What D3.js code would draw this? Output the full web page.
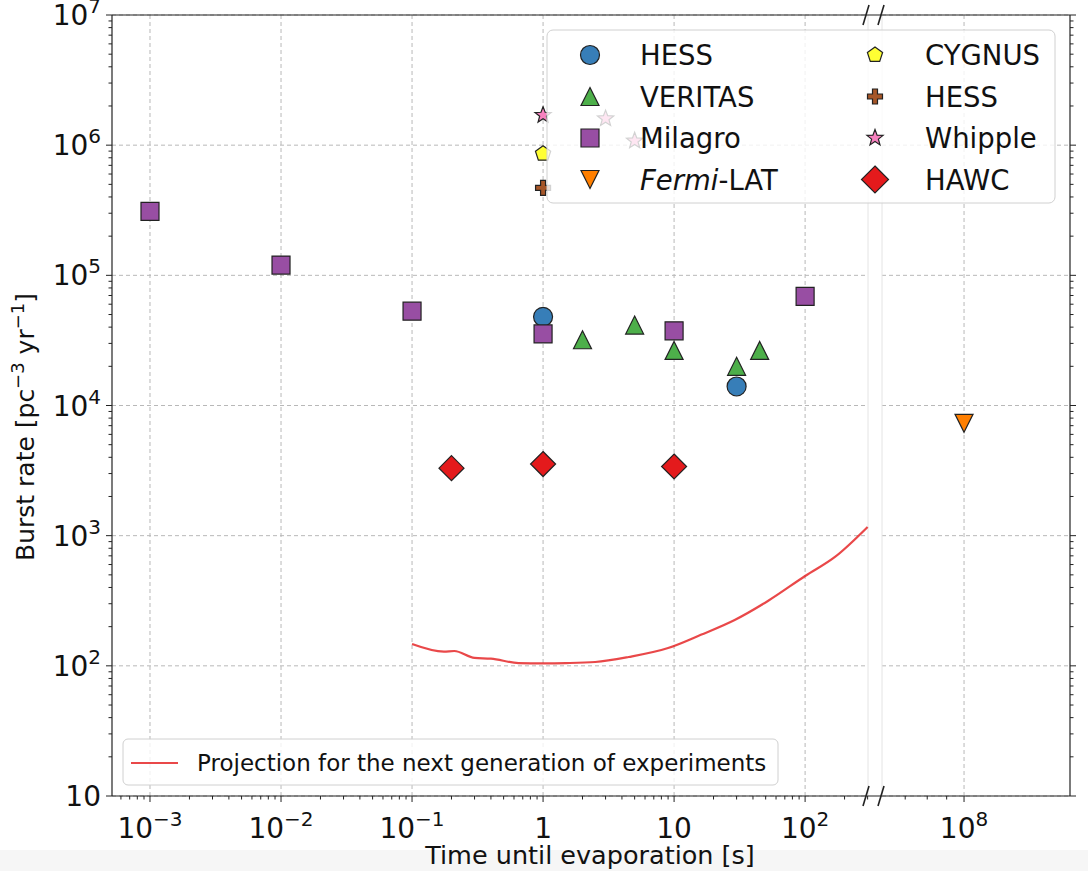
<!DOCTYPE html>
<html>
<head>
<meta charset="utf-8">
<script src="https://cdn.jsdelivr.net/npm/d3@7"></script>
<style>
  body { margin: 0; background: #fff; }
  text { font-family: "DejaVu Sans", sans-serif; fill: #111; }
</style>
</head>
<body>
<div id="chart"></div>
<script>
// data
var milagroX = [1e-3, 1e-2, 0.1, 1, 10, 100];
var milagroY = [3.1e5, 1.2e5, 5.3e4, 3.55e4, 3.75e4, 6.9e4];
var hessX = [1, 30];
var hessY = [4.8e4, 1.4e4];
var veritasX = [2, 5, 10, 30, 45];
var veritasY = [3.2e4, 4.15e4, 2.65e4, 2.0e4, 2.65e4];
var hawcX = [0.2, 1, 10];
var hawcY = [3.3e3, 3.55e3, 3.4e3];
var fermiX = [1e8];
var fermiY = [7.3e3];
var cygnusX = [1];
var cygnusY = [8.6e5];
var hessPlusX = [1];
var hessPlusY = [4.7e5];
var whippleX = [1, 3, 5];
var whippleY = [1.7e6, 1.6e6, 1.08e6];

var projX = [0.1, 0.175, 0.21, 0.3, 0.4, 0.65, 1, 1.5, 2.5, 4.5, 9, 16, 29, 52, 100, 170, 300];
var projY = [147, 128.5, 130, 115, 113.5, 105, 104.5, 105, 107, 117, 137, 173, 225, 315, 490, 690, 1167];

var xTicksMain = [1e-3, 1e-2, 1e-1, 1, 10, 100];
var xTicksRight = [1e8];
var yTicks = [10, 1e2, 1e3, 1e4, 1e5, 1e6, 1e7];

var W = 1088, H = 871;
var pLeft = 112, pTop = 15, pBottom = 796, mainRight = 868, rightLeft = 882, pRight = 1070;

var svg = d3.select("#chart").append("svg")
  .attr("width", W).attr("height", H);

svg.append("rect").attr("x", 0).attr("y", 850).attr("width", W).attr("height", 21).attr("fill", "#f6f6f6");

var xMain = d3.scaleLog().domain([Math.pow(10, -3.29), Math.pow(10, 2.48)]).range([pLeft, mainRight]);
var xRight = d3.scaleLog().domain([Math.pow(10, 7.784), Math.pow(10, 8.279)]).range([rightLeft, pRight]);
var y = d3.scaleLog().domain([10, 1e7]).range([pBottom, pTop]);

function minors(lo, hi) {
  var out = [];
  for (var e = Math.floor(Math.log10(lo)) - 1; e <= Math.ceil(Math.log10(hi)); e++) {
    for (var m = 2; m <= 9; m++) {
      var v = m * Math.pow(10, e);
      if (v >= lo && v <= hi) out.push(v);
    }
  }
  return out;
}

// grid
var grid = svg.append("g").attr("stroke", "#b8b8b8").attr("stroke-dasharray", "4,3").attr("stroke-width", 1);
xTicksMain.forEach(function(v) {
  grid.append("line").attr("x1", xMain(v)).attr("x2", xMain(v)).attr("y1", pTop).attr("y2", pBottom);
});
xTicksRight.forEach(function(v) {
  grid.append("line").attr("x1", xRight(v)).attr("x2", xRight(v)).attr("y1", pTop).attr("y2", pBottom);
});
yTicks.forEach(function(v) {
  grid.append("line").attr("x1", pLeft).attr("x2", mainRight).attr("y1", y(v)).attr("y2", y(v));
  grid.append("line").attr("x1", rightLeft).attr("x2", pRight).attr("y1", y(v)).attr("y2", y(v));
});

// faint inner spines at the break
svg.append("line").attr("x1", mainRight).attr("x2", mainRight).attr("y1", pTop).attr("y2", pBottom).attr("stroke", "#e4e4e4");
svg.append("line").attr("x1", rightLeft).attr("x2", rightLeft).attr("y1", pTop).attr("y2", pBottom).attr("stroke", "#e4e4e4");

// projection curve
var line = d3.line()
  .x(function(d) { return xMain(d[0]); })
  .y(function(d) { return y(d[1]); })
  .curve(d3.curveMonotoneX);
svg.append("path")
  .datum(d3.zip(projX, projY))
  .attr("d", line)
  .attr("fill", "none")
  .attr("stroke", "#e41a1c").attr("stroke-opacity", 0.8).attr("stroke-width", 2.2);

// marker shapes
function markerPath(kind, s) {
  var h = s / 2, i, a, pts = [];
  if (kind == "circle") return d3.symbol(d3.symbolCircle, Math.PI * h * h)();
  if (kind == "square") return "M" + -h + "," + -h + "H" + h + "V" + h + "H" + -h + "Z";
  if (kind == "tri") return "M0," + -h + "L" + h + "," + h + "L" + -h + "," + h + "Z";
  if (kind == "tridown") return "M0," + h + "L" + h + "," + -h + "L" + -h + "," + -h + "Z";
  if (kind == "diamond") return "M0," + -h + "L" + h + ",0L0," + h + "L" + -h + ",0Z";
  if (kind == "pentagon") {
    for (i = 0; i < 5; i++) {
      a = -Math.PI / 2 + i * 2 * Math.PI / 5;
      pts.push([h * Math.cos(a), h * Math.sin(a)]);
    }
    return "M" + pts.join("L") + "Z";
  }
  if (kind == "star") {
    for (i = 0; i < 10; i++) {
      a = -Math.PI / 2 + i * Math.PI / 5;
      var r = i % 2 ? h * 0.42 : h;
      pts.push([r * Math.cos(a), r * Math.sin(a)]);
    }
    return "M" + pts.join("L") + "Z";
  }
  if (kind == "plus") {
    var t = h / 3;
    return "M" + -t + "," + -h + "H" + t + "V" + -t + "H" + h + "V" + t + "H" + t + "V" + h +
      "H" + -t + "V" + t + "H" + -h + "V" + -t + "H" + -t + "Z";
  }
}

var series = [
  {name: "HESS", xs: hessX, ys: hessY, kind: "circle", size: 19, color: "#377eb8"},
  {name: "VERITAS", xs: veritasX, ys: veritasY, kind: "tri", size: 18, color: "#4daf4a"},
  {name: "Milagro", xs: milagroX, ys: milagroY, kind: "square", size: 18, color: "#984ea3"},
  {name: "Fermi-LAT", xs: fermiX, ys: fermiY, kind: "tridown", size: 18, color: "#ff7f00", italic: "Fermi", rest: "-LAT"},
  {name: "CYGNUS", xs: cygnusX, ys: cygnusY, kind: "pentagon", size: 16, color: "#ffff33"},
  {name: "HESS", xs: hessPlusX, ys: hessPlusY, kind: "plus", size: 15, color: "#a65628"},
  {name: "Whipple", xs: whippleX, ys: whippleY, kind: "star", size: 17, color: "#f781bf"},
  {name: "HAWC", xs: hawcX, ys: hawcY, kind: "diamond", size: 25, color: "#e41a1c"}
];

function xPos(v) { return v > 1e6 ? xRight(v) : xMain(v); }

series.forEach(function(s) {
  svg.append("g").selectAll("path")
    .data(d3.zip(s.xs, s.ys))
    .enter().append("path")
    .attr("d", markerPath(s.kind, s.size))
    .attr("transform", function(d) { return "translate(" + xPos(d[0]) + "," + y(d[1]) + ")"; })
    .attr("fill", s.color)
    .attr("stroke", "#222").attr("stroke-width", 1.2);
});

// axes
var ax = svg.append("g").attr("stroke", "#222").attr("stroke-width", 1.2);
ax.append("line").attr("x1", pLeft).attr("x2", pRight).attr("y1", pTop).attr("y2", pTop);
ax.append("line").attr("x1", pLeft).attr("x2", pRight).attr("y1", pBottom).attr("y2", pBottom);
ax.append("line").attr("x1", pLeft).attr("x2", pLeft).attr("y1", pTop).attr("y2", pBottom);
ax.append("line").attr("x1", pRight).attr("x2", pRight).attr("y1", pTop).attr("y2", pBottom);

// break marks
[mainRight - 2, rightLeft - 1].forEach(function(bx) {
  [pTop, pBottom].forEach(function(by) {
    svg.append("line").attr("x1", bx - 3).attr("y1", by + 10).attr("x2", bx + 3).attr("y2", by - 10)
      .attr("stroke", "#222").attr("stroke-width", 1.6);
  });
});

function tickLines(g, vals, fx, fy, len, horiz) {
  vals.forEach(function(v) {
    if (horiz) g.append("line").attr("x1", fx(v)).attr("x2", fx(v)).attr("y1", fy).attr("y2", fy + len);
    else g.append("line").attr("y1", fx(v)).attr("y2", fx(v)).attr("x1", fy).attr("x2", fy + len);
  });
}
var tk = svg.append("g").attr("stroke", "#222").attr("stroke-width", 1);
tickLines(tk, xTicksMain, xMain, pBottom, 6, true);
tickLines(tk, minors(xMain.domain()[0], xMain.domain()[1]), xMain, pBottom, 3.5, true);
tickLines(tk, xTicksRight, xRight, pBottom, 6, true);
tickLines(tk, minors(xRight.domain()[0] * 1.06, xRight.domain()[1]), xRight, pBottom, 3.5, true);
tickLines(tk, yTicks, y, pLeft, -6, false);
tickLines(tk, minors(10, 1e7), y, pLeft, -3.5, false);
tickLines(tk, yTicks, y, pRight, 6, false);
tickLines(tk, minors(10, 1e7), y, pRight, 3.5, false);

function powLabel(g, v, x, yy, anchor) {
  var e = Math.round(Math.log10(v));
  var t = g.append("text").attr("x", x).attr("y", yy).attr("text-anchor", anchor).attr("font-size", 28);
  if (e == 0) { t.text("1"); return; }
  if (e == 1) { t.text("10"); return; }
  t.append("tspan").text("10");
  t.append("tspan").attr("dy", -12).attr("font-size", 20).text(e < 0 ? "\u2212" + (-e) : e);
}
var lab = svg.append("g");
xTicksMain.forEach(function(v) { powLabel(lab, v, xMain(v), 838, "middle"); });
xTicksRight.forEach(function(v) { powLabel(lab, v, xRight(v), 838, "middle"); });
yTicks.forEach(function(v) { powLabel(lab, v, 101, y(v) + 10, "end"); });

svg.append("text").attr("x", 590).attr("y", 864).attr("text-anchor", "middle").attr("font-size", 25.5)
  .text("Time until evaporation [s]");

var yl = svg.append("text").attr("transform", "translate(34,427) rotate(-90)")
  .attr("text-anchor", "middle").attr("font-size", 25);
yl.append("tspan").text("Burst rate [pc");
yl.append("tspan").attr("dy", -10).attr("font-size", 18).text("\u22123");
yl.append("tspan").attr("dy", 10).text(" yr");
yl.append("tspan").attr("dy", -10).attr("font-size", 18).text("\u22121");
yl.append("tspan").attr("dy", 10).text("]");

// legend of markers
var lg = svg.append("g");
lg.append("rect").attr("x", 547).attr("y", 30).attr("width", 508).attr("height", 173).attr("rx", 6)
  .attr("fill", "#fff").attr("fill-opacity", 0.8).attr("stroke", "#d0d0d0");
series.forEach(function(s, i) {
  var col = Math.floor(i / 4), row = i % 4;
  var mx = col ? 875 : 590, ty = 55 + row * 41.5;
  var sz = s.kind == "diamond" ? 27 : s.size;
  lg.append("path").attr("d", markerPath(s.kind, sz))
    .attr("transform", "translate(" + mx + "," + ty + ")")
    .attr("fill", s.color).attr("stroke", "#222").attr("stroke-width", 1.2);
  var t = lg.append("text").attr("x", mx + 50).attr("y", ty + 10).attr("font-size", 27.5);
  if (s.italic) {
    t.append("tspan").attr("font-style", "italic").text(s.italic);
    t.append("tspan").text(s.rest);
  } else t.text(s.name);
});

// legend of projection
var lg2 = svg.append("g");
lg2.append("rect").attr("x", 123).attr("y", 739).attr("width", 655).attr("height", 46).attr("rx", 5)
  .attr("fill", "#fff").attr("fill-opacity", 0.8).attr("stroke", "#d0d0d0");
lg2.append("line").attr("x1", 131).attr("x2", 178).attr("y1", 763).attr("y2", 763)
  .attr("stroke", "#e41a1c").attr("stroke-opacity", 0.8).attr("stroke-width", 2.2);
lg2.append("text").attr("x", 197).attr("y", 771).attr("font-size", 23)
  .text("Projection for the next generation of experiments");
</script>
</body>
</html>
